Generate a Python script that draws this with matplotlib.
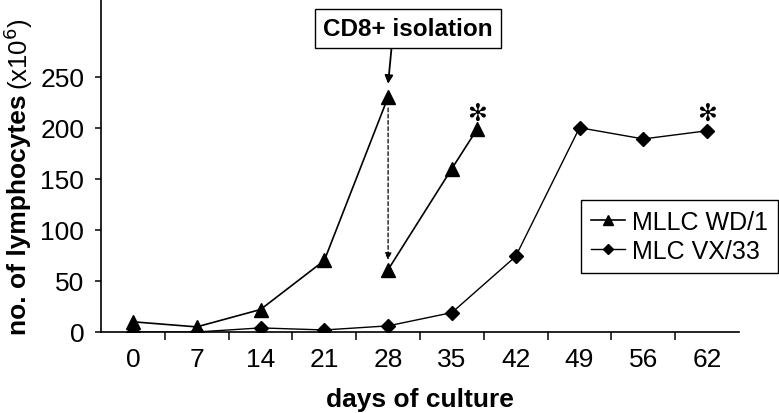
import matplotlib.pyplot as plt
import numpy as np

plt.rcParams['font.family'] = ['Liberation Sans', 'DejaVu Sans']

# ---- data ----
day_labels = ['0', '7', '14', '21', '28', '35', '42', '49', '56', '62']

# MLLC WD/1: before CD8+ isolation, then after (x positions are category indices)
wd1_x_before = [0, 1, 2, 3, 4]
wd1_y_before = [10, 5, 22, 70, 230]
wd1_x_after = [4, 5, 5.4]
wd1_y_after = [61, 160, 199]

# MLC VX/33
vx33_x = [0, 1, 2, 3, 4, 5, 6, 7, 8, 9]
vx33_y = [0, 0, 4, 2, 6, 19, 74, 200, 189, 197]

# ---- figure ----
fig = plt.figure(figsize=(7.79, 4.14), dpi=100)
ax = fig.add_axes([101 / 779, 81 / 414, 638 / 779, 333 / 414])

ax.plot(wd1_x_before, wd1_y_before, color='black', lw=1.2, marker='^', ms=10,
        label='MLLC WD/1')
ax.plot(wd1_x_after, wd1_y_after, color='black', lw=1.2, marker='^', ms=10)
ax.plot(vx33_x, vx33_y, color='black', lw=1.0, marker='D', ms=7.5,
        label='MLC VX/33')

# dashed arrow: isolation drop
ax.annotate('', xy=(4, 68), xytext=(4, 222),
            arrowprops=dict(arrowstyle='-|>', color='black', lw=0.9,
                            linestyle=(0, (3, 2)), mutation_scale=10))

# box + solid arrow
ax.annotate('CD8+ isolation', xy=(4, 243), xytext=(4.31, 297),
            ha='center', va='center', fontsize=17.5, fontweight='bold',
            bbox=dict(boxstyle='square,pad=0.33', fc='white', ec='black', lw=1),
            arrowprops=dict(arrowstyle='-|>', color='black', lw=1.3,
                            mutation_scale=12, shrinkA=0, shrinkB=0,
                            relpos=(0.408, 0)))

# asterisks
ax.text(5.4, 215, '\u273B', ha='center', va='center', fontsize=17,
        family='DejaVu Sans')
ax.text(9.0, 215, '\u273B', ha='center', va='center', fontsize=17,
        family='DejaVu Sans')

# axes styling
ax.set_xlim(-0.5, 9.5)
ax.set_ylim(0, 326)
ax.spines['top'].set_visible(False)
ax.spines['right'].set_visible(False)
ax.spines['left'].set_linewidth(1.2)
ax.spines['bottom'].set_linewidth(1.2)

ax.set_xticks(np.arange(0.5, 9.5, 1))
ax.set_xticklabels([])
ax.set_xticks(np.arange(10), minor=True)
ax.set_xticklabels(day_labels, minor=True, fontsize=19)
ax.tick_params(axis='x', which='major', direction='out', length=6, width=1.1)
ax.tick_params(axis='x', which='minor', length=0, pad=11)

ax.set_yticks([0, 50, 100, 150, 200, 250])
ax.tick_params(axis='y', direction='out', length=4, width=1.1, labelsize=19, pad=8)

ax.set_xlabel('days of culture', fontsize=19, fontweight='bold', labelpad=11)

# y label: bold part + normal part
t1 = fig.text(0.024, 79 / 414, 'no. of lymphocytes', rotation=90, ha='center',
              va='bottom', fontsize=19, fontweight='bold')
ax.annotate(r'(x10$^{6}$)', xy=(0.5, 1), xycoords=t1, xytext=(0, 3),
            textcoords='offset points', rotation=90, ha='center', va='bottom',
            fontsize=18.5)

leg = ax.legend(loc='upper right', bbox_to_anchor=(778 / 779, 213 / 414),
                bbox_transform=fig.transFigure, borderaxespad=0,
                fontsize=18, frameon=True, fancybox=False, framealpha=1,
                edgecolor='black', handlelength=1.35, handletextpad=0.3,
                borderpad=0.4, labelspacing=0.2, markerscale=0.7)
leg.get_frame().set_linewidth(1.0)

fig.savefig('out.png', dpi=100)
